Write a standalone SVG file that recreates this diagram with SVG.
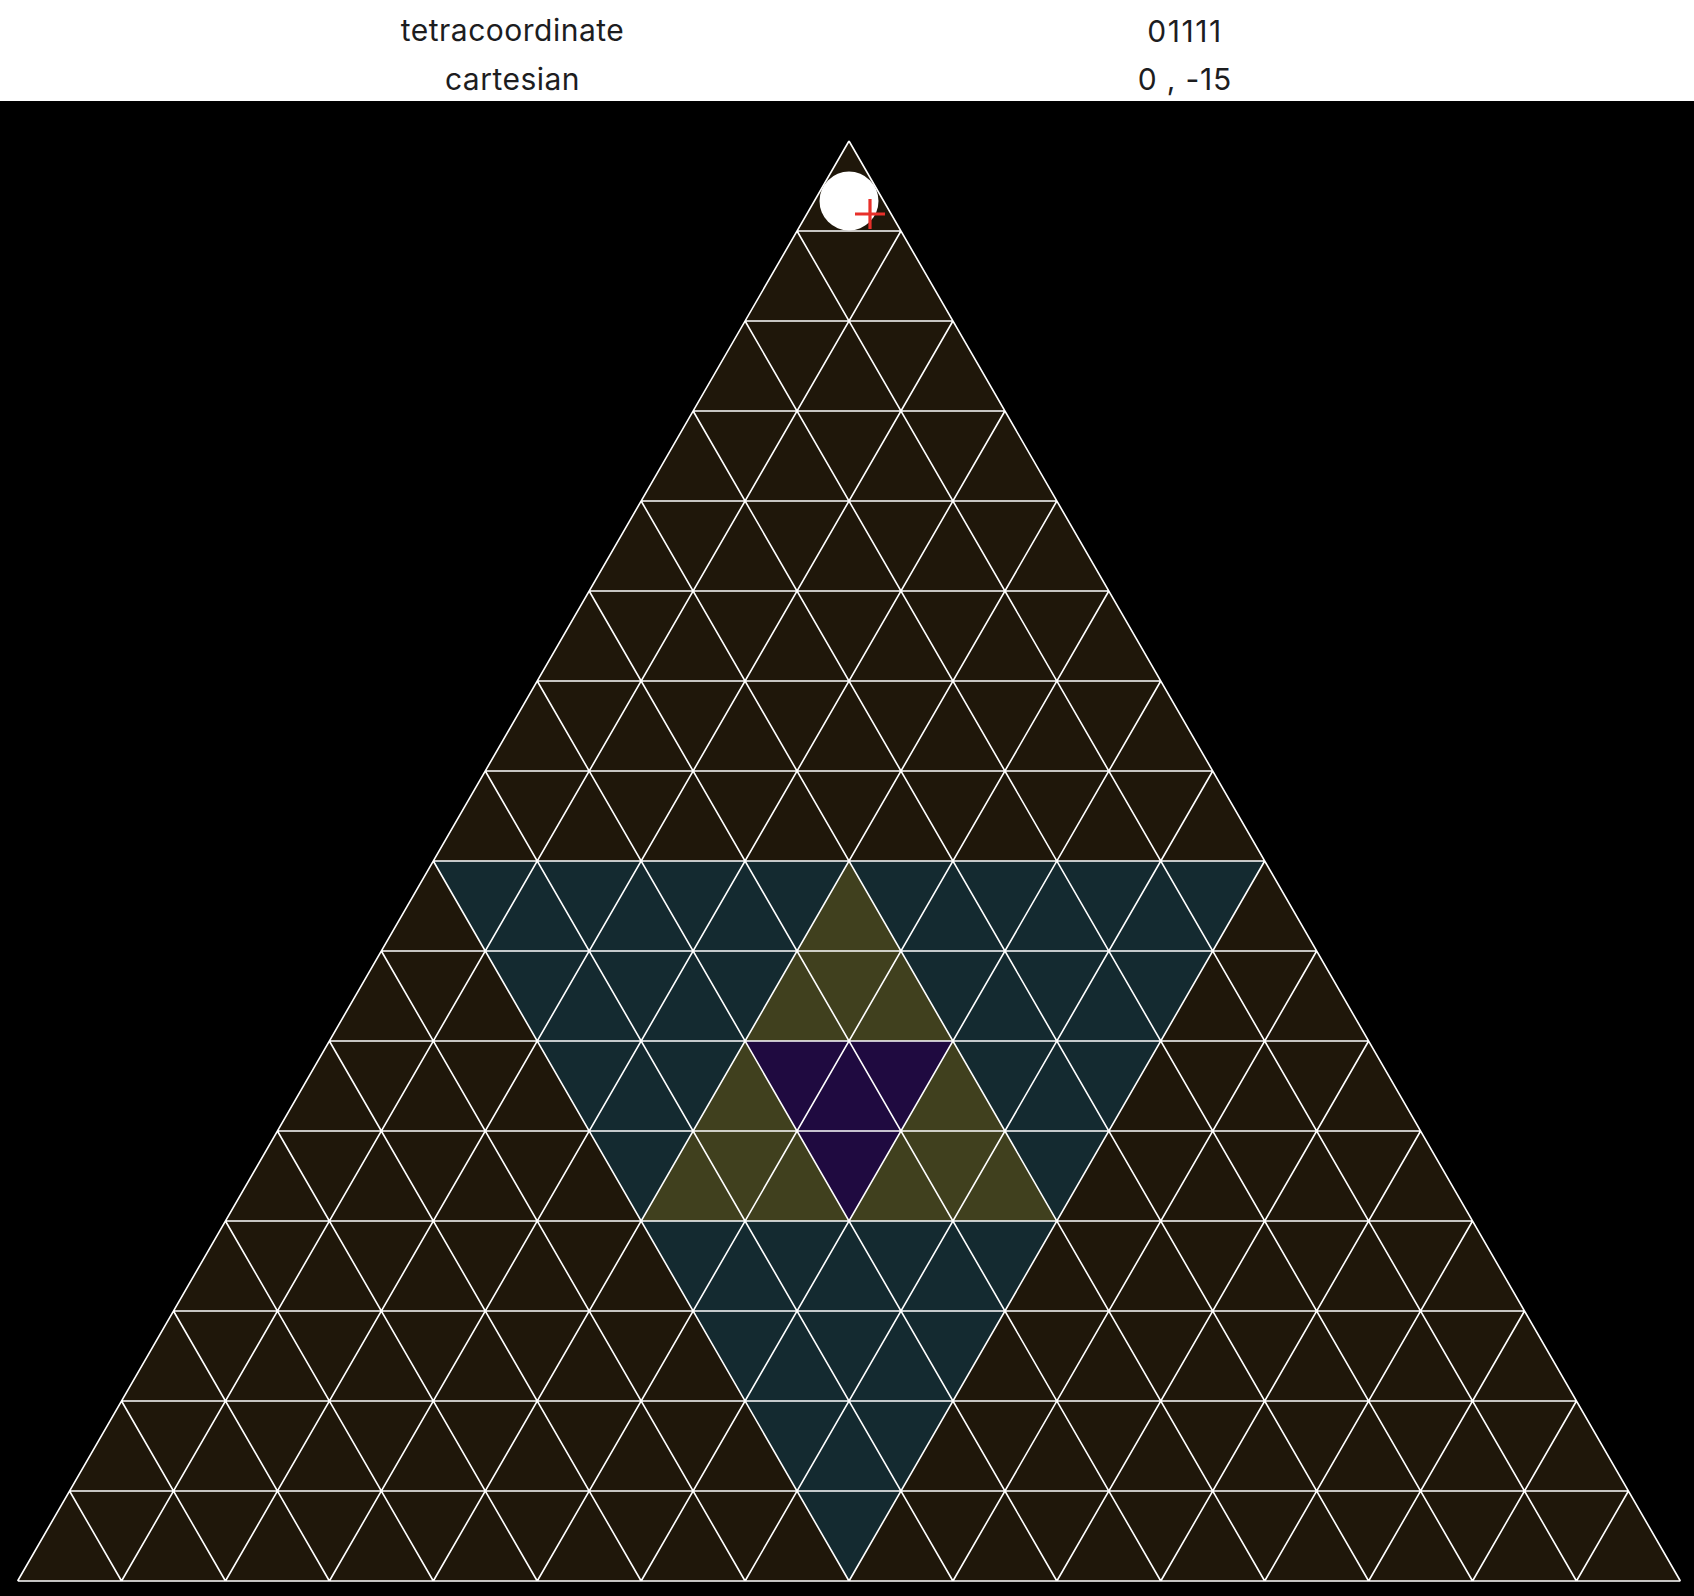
<svg xmlns="http://www.w3.org/2000/svg" width="1694" height="1596" viewBox="0 0 1694 1596">
  <style>
    .hdr { font-family: Inter, "Liberation Sans", Arial, sans-serif; font-size: 30px; fill: #1d1d1f; text-anchor: middle; letter-spacing: 0.5px; }
    .grid { fill: none; stroke: #ffffff; stroke-width: 1.6; stroke-linejoin: round; }
    .brown { fill: #1f170a; }
    .teal { fill: #142a30; }
    .olive { fill: #40401e; }
    .purple { fill: #1f0a40; }
    .cross { stroke: #e8302a; stroke-width: 3.2; }
  </style>
  <rect x="0" y="0" width="1694" height="101" fill="#ffffff"/>
  <rect x="0" y="101" width="1694" height="1495" fill="#000000"/>

  <g id="header">
    <text class="hdr" x="512.5" y="40.5">tetracoordinate</text>
    <text class="hdr" x="1185" y="41.5" style="letter-spacing:1.6px">01111</text>
    <text class="hdr" x="512.5" y="90">cartesian</text>
    <text class="hdr" x="1185" y="89.5" style="letter-spacing:0.8px">0 , -15</text>
  </g>

  <g id="regions">
    <polygon class="brown" points="849,141 17.62,1581 1680.38,1581"/>
    <polygon class="teal" points="433.31,861 1264.69,861 849,1581"/>
    <polygon class="olive" points="849,861 641.15,1221 1056.85,1221"/>
    <polygon class="purple" points="745.08,1041 952.92,1041 849,1221"/>
  </g>

  <g id="grid">
    <path class="grid" d="
      M797.04,231H900.96 M745.08,321H952.92 M693.12,411H1004.88 M641.15,501H1056.85
      M589.19,591H1108.81 M537.23,681H1160.77 M485.27,771H1212.73 M433.31,861H1264.69
      M381.35,951H1316.65 M329.38,1041H1368.62 M277.42,1131H1420.58 M225.46,1221H1472.54
      M173.50,1311H1524.50 M121.54,1401H1576.46 M69.58,1491H1628.42 M17.62,1581H1680.38
      M17.62,1581L849,141 M121.54,1581L900.96,231 M225.46,1581L952.92,321 M329.38,1581L1004.88,411
      M433.31,1581L1056.85,501 M537.23,1581L1108.81,591 M641.15,1581L1160.77,681 M745.08,1581L1212.73,771
      M849,1581L1264.69,861 M952.92,1581L1316.65,951 M1056.85,1581L1368.62,1041 M1160.77,1581L1420.58,1131
      M1264.69,1581L1472.54,1221 M1368.62,1581L1524.50,1311 M1472.54,1581L1576.46,1401 M1576.46,1581L1628.42,1491
      M121.54,1581L69.58,1491 M225.46,1581L121.54,1401 M329.38,1581L173.50,1311 M433.31,1581L225.46,1221
      M537.23,1581L277.42,1131 M641.15,1581L329.38,1041 M745.08,1581L381.35,951 M849,1581L433.31,861
      M952.92,1581L485.27,771 M1056.85,1581L537.23,681 M1160.77,1581L589.19,591 M1264.69,1581L641.15,501
      M1368.62,1581L693.12,411 M1472.54,1581L745.08,321 M1576.46,1581L797.04,231 M1680.38,1581L849,141"/>
  </g>

  <g id="marker">
    <circle cx="849" cy="201" r="29.5" fill="#ffffff"/>
    <path class="cross" d="M855,214H885 M870,199V229"/>
  </g>
</svg>
